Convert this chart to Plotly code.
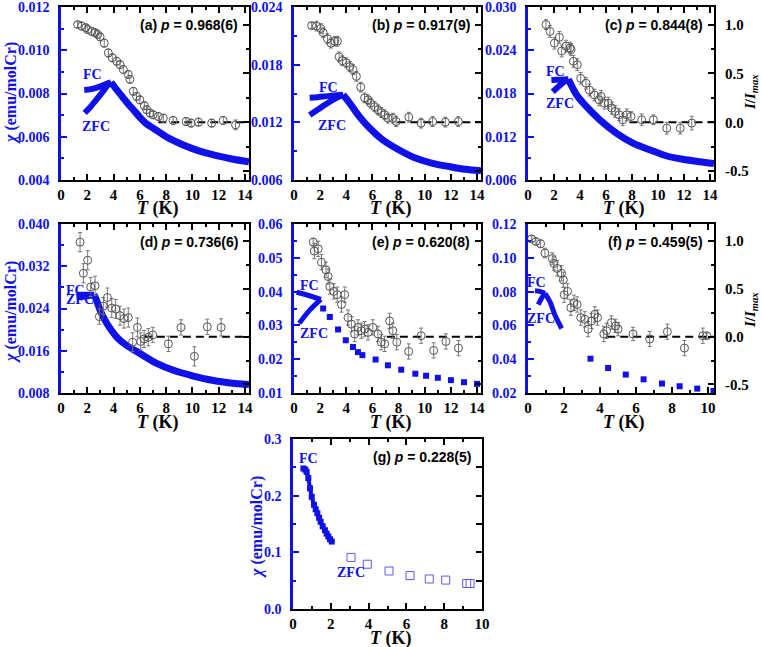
import plotly.graph_objects as go

# ---------------- data ----------------
panel_tags = ["(a)", "(b)", "(c)", "(d)", "(e)", "(f)", "(g)"]
p_values = ["0.968(6)", "0.917(9)", "0.844(8)", "0.736(6)", "0.620(8)", "0.459(5)", "0.228(5)"]

# (a)
a_fc_T = [1.77, 2.2, 2.6, 3.0, 3.3, 3.6, 3.8]
a_fc_chi = [0.00816, 0.00819, 0.00825, 0.00833, 0.0084, 0.00848, 0.00852]
a_zfc_T = [1.8, 2.2, 2.6, 3.0, 3.3, 3.6, 3.8]
a_zfc_chi = [0.00710, 0.00735, 0.00765, 0.00795, 0.00818, 0.00842, 0.00852]
a_hi_T = [3.8, 4.2, 4.6, 5.0, 5.5, 6.0, 6.5, 7.0, 7.5, 8.0, 9.0, 10.0, 11.0, 12.0, 13.0, 14.0, 14.3]
a_hi_chi = [0.00852, 0.0082, 0.0079, 0.0076, 0.00725, 0.0069, 0.0066, 0.0064, 0.0062, 0.0060, 0.0057,
            0.00545, 0.00525, 0.0051, 0.00497, 0.00487, 0.00484]
a_nT = [1.27, 1.57, 1.88, 2.03, 2.34, 2.59, 2.79, 2.97, 3.29, 3.6, 3.9, 4.24, 4.49, 4.74, 5.12, 5.24,
        5.5, 5.75, 6.0, 6.34, 6.51, 6.77, 7.01, 7.4, 7.78, 8.53, 9.51, 9.89, 10.46, 11.46, 12.34, 13.28]
a_nI = [1.0, 0.985, 0.968, 0.95, 0.93, 0.917, 0.90, 0.875, 0.81, 0.71, 0.66, 0.625, 0.59, 0.54, 0.49, 0.44,
        0.317, 0.265, 0.23, 0.17, 0.13, 0.095, 0.077, 0.06, 0.043, 0.019, 0.008, -0.008, 0.002, -0.008, 0.019, -0.026]
a_nErr = [0.03, 0.04, 0.04, 0.04, 0.04, 0.04, 0.04, 0.04, 0.04, 0.04, 0.04, 0.04, 0.04, 0.04, 0.04, 0.04,
          0.04, 0.04, 0.04, 0.04, 0.04, 0.04, 0.04, 0.04, 0.04, 0.04, 0.04, 0.04, 0.04, 0.04, 0.04, 0.05]

# (b)
b_fc_T = [1.2, 1.8, 2.4, 3.0, 3.5, 3.75]
b_fc_chi = [0.01456, 0.01462, 0.0147, 0.01478, 0.01484, 0.01486]
b_zfc_T = [1.2, 1.8, 2.4, 3.0, 3.5, 3.75]
b_zfc_chi = [0.01276, 0.0133, 0.01385, 0.01435, 0.01472, 0.01486]
b_hi_T = [3.75, 4.26, 5.0, 5.8, 6.8, 8.07, 9.34, 10.6, 11.87, 13.1, 14.3]
b_hi_chi = [0.01486, 0.0140, 0.0126, 0.01138, 0.01016, 0.0091, 0.00826, 0.00774, 0.0074, 0.00711, 0.00695]
b_nT = [1.35, 1.72, 2.05, 2.23, 2.56, 2.82, 3.12, 3.32, 3.45, 3.7, 4.0, 4.26, 4.51, 4.77, 5.1, 5.4, 5.66,
        5.86, 6.16, 6.42, 6.67, 6.93, 7.18, 7.56, 7.81, 8.78, 9.72, 10.6, 11.57, 12.56]
b_nI = [0.99, 0.985, 0.96, 0.917, 0.855, 0.81, 0.83, 0.83, 0.67, 0.63, 0.61, 0.57, 0.54, 0.47, 0.36, 0.25,
        0.23, 0.197, 0.16, 0.128, 0.10, 0.077, 0.043, 0.043, 0.008, 0.053, -0.008, 0.008, 0.002, 0.008]
b_nErr = [0.03, 0.05, 0.05, 0.05, 0.05, 0.05, 0.05, 0.05, 0.05, 0.05, 0.05, 0.05, 0.05, 0.05, 0.05, 0.05,
          0.05, 0.05, 0.05, 0.05, 0.05, 0.05, 0.05, 0.05, 0.05, 0.05, 0.05, 0.05, 0.05, 0.05]

# (c)
c_fc_T = [1.8, 2.3, 2.8, 3.1]
c_fc_chi = [0.01987, 0.0199, 0.01995, 0.01997]
c_zfc_T = [1.9, 2.3, 2.7, 3.1]
c_zfc_chi = [0.01825, 0.0189, 0.0195, 0.01997]
c_hi_T = [3.1, 3.74, 4.5, 5.54, 6.82, 8.1, 9.4, 10.67, 11.9, 13.2, 14.3]
c_hi_chi = [0.01997, 0.01779, 0.01617, 0.01432, 0.01248, 0.01109, 0.01016, 0.00933, 0.00887, 0.00854, 0.0083]
c_nT = [1.38, 1.69, 2.03, 2.41, 2.59, 2.92, 3.23, 3.31, 3.49, 3.79, 4.05, 4.46, 4.72, 5.1, 5.46, 5.62,
        5.87, 6.18, 6.44, 6.69, 7.0, 7.28, 7.59, 7.92, 8.74, 9.64, 10.67, 11.7, 12.59]
c_nI = [1.0, 0.93, 0.81, 0.87, 0.73, 0.78, 0.76, 0.745, 0.625, 0.59, 0.45, 0.40, 0.33, 0.28, 0.23, 0.265,
        0.197, 0.197, 0.146, 0.111, 0.077, 0.026, 0.077, 0.06, 0.026, 0.026, -0.06, -0.06, -0.008]
c_nErr = [0.05, 0.06, 0.06, 0.06, 0.06, 0.06, 0.06, 0.06, 0.06, 0.06, 0.06, 0.06, 0.06, 0.06, 0.06, 0.06,
          0.06, 0.06, 0.06, 0.06, 0.06, 0.06, 0.06, 0.05, 0.06, 0.05, 0.06, 0.06, 0.07]

# (d)
d_fc_T = [1.2, 1.7, 2.2, 2.5]
d_fc_chi = [0.0266, 0.0266, 0.0266, 0.0266]
d_zfc_T = [1.2, 1.7, 2.2, 2.5]
d_zfc_chi = [0.0261, 0.0262, 0.0264, 0.0266]
d_hi_T = [2.5, 2.7, 2.97, 3.48, 4.24, 5.0, 6.0, 7.28, 8.55, 9.8, 11.1, 12.6, 14.3]
d_hi_chi = [0.0266, 0.0256, 0.0237, 0.0212, 0.0186, 0.0170, 0.0155, 0.0136, 0.0123, 0.0114, 0.0106, 0.0100, 0.0096]
d_nT = [1.45, 1.7, 2.03, 2.26, 2.59, 2.92, 3.22, 3.53, 3.86, 4.16, 4.49, 4.79, 5.12, 5.45, 5.81, 6.06,
        6.32, 6.64, 6.98, 8.17, 9.13, 10.15, 11.13, 12.18]
d_nI = [0.99, 0.664, 0.80, 0.52, 0.533, 0.21, 0.32, 0.41, 0.30, 0.29, 0.22, 0.19, 0.20, -0.058, 0.097,
        -0.05, -0.024, -0.006, 0.018, -0.075, 0.097, -0.206, 0.103, 0.097]
d_nErr = [0.1, 0.1, 0.1, 0.1, 0.1, 0.08, 0.09, 0.1, 0.1, 0.1, 0.1, 0.1, 0.1, 0.1, 0.1, 0.09,
          0.09, 0.09, 0.08, 0.08, 0.08, 0.1, 0.08, 0.09]

# (e)
e_fc_T = [0.2, 1.0, 2.05]
e_fc_chi = [0.0398, 0.0390, 0.0377]
e_zfc_T = [0.4, 1.2, 2.05]
e_zfc_chi = [0.0306, 0.0345, 0.0377]
e_hi_T = [2.23, 2.74, 3.37, 3.96, 4.51, 4.89, 5.23, 6.24, 7.18, 8.2, 9.28, 10.1, 11.0, 12.0, 13.0, 14.0]
e_hi_chi = [0.0350, 0.0325, 0.0288, 0.0256, 0.0236, 0.0221, 0.0212, 0.0199, 0.0182, 0.0169, 0.0157,
            0.0151, 0.0145, 0.0138, 0.0132, 0.0127]
e_nT = [1.47, 1.55, 1.85, 2.1, 2.44, 2.61, 2.74, 3.04, 3.3, 3.63, 3.88, 4.13, 4.39, 4.64, 4.89, 5.15,
        5.4, 5.66, 6.03, 6.42, 6.67, 6.93, 7.31, 7.56, 7.86, 8.77, 9.72, 10.68, 11.62, 12.58]
e_nI = [0.99, 0.897, 0.92, 0.78, 0.70, 0.63, 0.526, 0.474, 0.44, 0.337, 0.44, 0.2, 0.131, 0.028, 0.097,
        0.062, 0.079, 0.045, 0.097, 0.028, -0.058, -0.075, 0.165, 0.062, -0.058, -0.155, 0.01, -0.144, -0.05, -0.12]
e_nErr = [0.04, 0.08, 0.08, 0.08, 0.08, 0.08, 0.08, 0.08, 0.08, 0.08, 0.08, 0.08, 0.08, 0.08, 0.08, 0.08,
          0.08, 0.08, 0.08, 0.08, 0.08, 0.08, 0.08, 0.08, 0.08, 0.08, 0.08, 0.08, 0.08, 0.08]

# (f)
f_fc_T = [0.39, 0.7, 0.94]
f_fc_chi = [0.0805, 0.0800, 0.0790]
f_zfc_T = [0.57, 0.75, 0.94]
f_zfc_chi = [0.0723, 0.0760, 0.0790]
f_mid_T = [0.94, 1.22, 1.5, 1.87]
f_mid_chi = [0.0790, 0.074, 0.066, 0.0582]
f_hi_T = [3.47, 4.45, 5.43, 6.42, 7.44, 8.42, 9.4, 10.3]
f_hi_chi = [0.0403, 0.0348, 0.0309, 0.0281, 0.0256, 0.0240, 0.0226, 0.0212]
f_nT = [0.2, 0.44, 0.7, 0.94, 1.35, 1.44, 1.62, 1.86, 1.96, 2.01, 2.2, 2.38, 2.55, 2.73, 2.93, 3.16,
        3.34, 3.53, 3.71, 3.86, 4.21, 4.36, 4.63, 4.87, 5.0, 5.83, 6.76, 7.74, 8.69, 9.71, 9.93]
f_nI = [1.025, 0.997, 0.973, 0.876, 0.818, 0.767, 0.715, 0.664, 0.595, 0.44, 0.474, 0.303, 0.355, 0.337,
        0.2, 0.182, 0.079, 0.165, 0.234, 0.2, 0.028, 0.062, 0.148, 0.113, 0.079, 0.028, -0.024, 0.052,
        -0.12, 0.01, 0.01]
f_nErr = [0.03, 0.03, 0.04, 0.05, 0.06, 0.07, 0.08, 0.08, 0.08, 0.08, 0.08, 0.08, 0.08, 0.08, 0.08, 0.08,
          0.08, 0.08, 0.08, 0.08, 0.08, 0.08, 0.07, 0.07, 0.07, 0.07, 0.08, 0.08, 0.08, 0.08, 0.03]

# (g)
g_fc_T = [0.55, 0.65, 0.72, 0.81, 0.9, 0.99, 1.11, 1.2, 1.29, 1.38, 1.46, 1.57, 1.69, 1.78, 1.87, 1.96, 2.05]
g_fc_chi = [0.248, 0.246, 0.242, 0.231, 0.213, 0.198, 0.184, 0.176, 0.169, 0.161, 0.154, 0.146, 0.139,
            0.133, 0.128, 0.123, 0.119]
g_zfc_T = [3.07, 3.93, 5.08, 6.19, 7.21, 8.08, 9.19, 9.37]
g_zfc_chi = [0.091, 0.079, 0.067, 0.059, 0.053, 0.051, 0.045, 0.045]

# dashed I = 0 reference lines (a-f)
dash_T0 = [7.4, 7.9, 7.8, 6.3, 7.1, 4.4]
dash_T1 = [14.3, 14.3, 14.3, 14.3, 14.3, 10.33]

I_tickvals = [-0.5, 0.0, 0.5, 1.0]
I_ticktext = ["-0.5", "0.0", "0.5", "1.0"]
I_minorvals = [-0.25, 0.25, 0.75]

# ---------------- figure ----------------
W, H = 762, 647
BLUE = "#1010e8"
GRAY = "#555555"
SERIF = "Liberation Serif"
SANS = "Liberation Sans"


def fx(p):
    return p / W


def fy(p):
    return 1 - p / H


boxes = [(61, 249, 7, 180), (294, 481, 7, 180), (528, 714, 7, 180),
         (61, 249, 224, 393), (294, 481, 224, 393), (528, 714, 224, 393),
         (293, 482, 439, 609)]
xranges = [[0, 14.3]] * 5 + [[0, 10.33], [0, 10]]
yranges = [[0.004, 0.012], [0.006, 0.024], [0.006, 0.030], [0.008, 0.040],
           [0.01, 0.06], [0.02, 0.12], [0.0, 0.3]]
ydticks = [0.002, 0.006, 0.006, 0.008, 0.01, 0.02, 0.1]
yfmts = [".3f", ".3f", ".3f", ".3f", ".2f", ".2f", ".1f"]
IRANGE = [-0.59, 1.18]

fc_T = [a_fc_T, b_fc_T, c_fc_T, d_fc_T, e_fc_T, f_fc_T]
fc_chi = [a_fc_chi, b_fc_chi, c_fc_chi, d_fc_chi, e_fc_chi, f_fc_chi]
zfc_T = [a_zfc_T, b_zfc_T, c_zfc_T, d_zfc_T, e_zfc_T, f_zfc_T]
zfc_chi = [a_zfc_chi, b_zfc_chi, c_zfc_chi, d_zfc_chi, e_zfc_chi, f_zfc_chi]
hi_T = [a_hi_T, b_hi_T, c_hi_T, d_hi_T, e_hi_T, f_hi_T]
hi_chi = [a_hi_chi, b_hi_chi, c_hi_chi, d_hi_chi, e_hi_chi, f_hi_chi]
n_T = [a_nT, b_nT, c_nT, d_nT, e_nT, f_nT]
n_I = [a_nI, b_nI, c_nI, d_nI, e_nI, f_nI]
n_E = [a_nErr, b_nErr, c_nErr, d_nErr, e_nErr, f_nErr]

fig = go.Figure()
layout = dict(width=W, height=H, margin=dict(l=0, r=0, t=0, b=0, autoexpand=False),
              paper_bgcolor="white", plot_bgcolor="white", showlegend=False)
annotations = []

tickfont_k = dict(family=SERIF, size=15, color="black", weight="bold")
tickfont_b = dict(family=SERIF, size=14, color=BLUE, weight="bold")

for i in range(7):
    n = i + 1
    x0, x1, y0, y1 = boxes[i]
    xk = "xaxis" if n == 1 else f"xaxis{n}"
    yk = "yaxis" if n == 1 else f"yaxis{n}"
    yrk = f"yaxis{n + 7}"
    xn = "x" if n == 1 else f"x{n}"
    yn = "y" if n == 1 else f"y{n}"
    yrn = f"y{n + 7}"

    layout[xk] = dict(domain=[fx(x0), fx(x1)], range=xranges[i], anchor=yn, automargin=False,
                      ticklabeloverflow="allow",
                      tick0=0, dtick=2, ticks="inside", ticklen=6, tickwidth=1.5, tickcolor="black",
                      minor=dict(dtick=1, tick0=0, ticks="inside", ticklen=3, tickwidth=1.5, tickcolor="black"),
                      showline=True, linecolor="black", linewidth=2, mirror="ticks",
                      showgrid=False, zeroline=False, tickfont=tickfont_k, ticklabelstandoff=0)
    layout[yk] = dict(domain=[fy(y1), fy(y0)], range=yranges[i], anchor=xn, side="left", automargin=False,
                      ticklabeloverflow="allow",
                      tick0=0, dtick=ydticks[i], tickformat=yfmts[i],
                      ticks="inside", ticklen=6, tickwidth=1.5, tickcolor=BLUE,
                      minor=dict(dtick=ydticks[i] / 2, tick0=0, ticks="inside", ticklen=3,
                                 tickwidth=1.5, tickcolor=BLUE),
                      showline=True, linecolor=BLUE, linewidth=2.5,
                      showgrid=False, zeroline=False, tickfont=tickfont_b, ticklabelstandoff=6)
    if i < 6:
        layout[yrk] = dict(overlaying=yn, anchor=xn, side="right", range=IRANGE, automargin=False,
                           ticklabeloverflow="allow",
                           tickmode="array", tickvals=I_tickvals, ticktext=I_ticktext,
                           showticklabels=(i in (2, 5)),
                           ticks="inside", ticklen=6, tickwidth=1.5, tickcolor="black",
                           minor=dict(tickmode="array", tickvals=I_minorvals, ticks="inside",
                                      ticklen=3, tickwidth=1.5, tickcolor="black"),
                           showline=True, linecolor="black", linewidth=2,
                           showgrid=False, zeroline=False, tickfont=tickfont_k, ticklabelstandoff=6)
    else:
        layout[yrk] = dict(overlaying=yn, anchor=xn, side="right", range=yranges[i], automargin=False,
                           tick0=0, dtick=0.1, showticklabels=False,
                           ticks="inside", ticklen=6, tickwidth=1.5, tickcolor="black",
                           minor=dict(dtick=0.05, tick0=0, ticks="inside", ticklen=6,
                                      tickwidth=1.5, tickcolor="black"),
                           showline=True, linecolor="black", linewidth=2,
                           showgrid=False, zeroline=False)

    # susceptibility traces
    if i < 6:
        lw = 6 if i < 4 else 5
        fig.add_trace(go.Scatter(x=fc_T[i], y=fc_chi[i], mode="lines", xaxis=xn, yaxis=yn,
                                 line=dict(color=BLUE, width=lw, shape="spline")))
        fig.add_trace(go.Scatter(x=zfc_T[i], y=zfc_chi[i], mode="lines", xaxis=xn, yaxis=yn,
                                 line=dict(color=BLUE, width=lw, shape="spline")))
        if i < 4:
            fig.add_trace(go.Scatter(x=hi_T[i], y=hi_chi[i], mode="lines", xaxis=xn, yaxis=yn,
                                     line=dict(color=BLUE, width=7, shape="spline", smoothing=0.8)))
        else:
            fig.add_trace(go.Scatter(x=hi_T[i], y=hi_chi[i], mode="markers", xaxis=xn, yaxis=yn,
                                     marker=dict(symbol="square", color=BLUE, size=6, line=dict(width=0))))
        if i == 5:
            fig.add_trace(go.Scatter(x=f_mid_T, y=f_mid_chi, mode="lines", xaxis=xn, yaxis=yn,
                                     line=dict(color=BLUE, width=5, shape="spline")))
        # neutron intensity
        fig.add_trace(go.Scatter(x=[dash_T0[i], dash_T1[i]], y=[0, 0], mode="lines", xaxis=xn, yaxis=yrn,
                                 line=dict(color="black", width=2, dash="8px,5px")))
        fig.add_trace(go.Scatter(x=n_T[i], y=n_I[i], mode="markers", xaxis=xn, yaxis=yrn,
                                 error_y=dict(type="data", array=n_E[i], color="#777777",
                                              thickness=1, width=2),
                                 marker=dict(symbol="circle-open", color=GRAY, size=8,
                                             line=dict(width=1, color=GRAY))))
    else:
        fig.add_trace(go.Scatter(x=g_fc_T, y=g_fc_chi, mode="lines+markers", xaxis=xn, yaxis=yn,
                                 line=dict(color=BLUE, width=4, shape="spline"),
                                 marker=dict(symbol="square", color=BLUE, size=6, line=dict(width=0))))
        fig.add_trace(go.Scatter(x=g_zfc_T, y=g_zfc_chi, mode="markers", xaxis=xn, yaxis=yrn,
                                 marker=dict(symbol="square-open", color="#5a5ae6", size=8,
                                             line=dict(width=1, color="#5a5ae6"))))

    # panel title
    annotations.append(dict(x=fx(x1 - 9), y=fy(y0 + 18), xref="paper", yref="paper",
                            xanchor="right", yanchor="middle", showarrow=False,
                            text=f"{panel_tags[i]} <i>p</i> = {p_values[i]}",
                            font=dict(family=SANS, size=14, color="black", weight="bold")))
    # x title
    annotations.append(dict(x=fx((x0 + x1) / 2 + 3), y=fy(y1 + 29), xref="paper", yref="paper",
                            xanchor="center", yanchor="middle", showarrow=False,
                            text="<i>T</i> (K)",
                            font=dict(family=SERIF, size=18, color="black", weight="bold")))

# y titles (chi)
for (xc, yc) in [(11, 93), (11, 312), (257, 527)]:
    annotations.append(dict(x=fx(xc), y=fy(yc), xref="paper", yref="paper", textangle=-90,
                            xanchor="center", yanchor="middle", showarrow=False,
                            text="<i>χ</i> (emu/molCr)",
                            font=dict(family=SERIF, size=16, color=BLUE, weight="bold")))
# right titles
for (xc, yc) in [(751, 92), (751, 310)]:
    annotations.append(dict(x=fx(xc), y=fy(yc), xref="paper", yref="paper", textangle=-90,
                            xanchor="center", yanchor="middle", showarrow=False,
                            text="<i>I</i>/<i>I</i><sub><i>max</i></sub>",
                            font=dict(family=SERIF, size=15, color="black", weight="bold")))

# FC / ZFC labels
fc_labels = [("FC", 92, 75), ("ZFC", 96, 127), ("FC", 328, 87), ("ZFC", 332, 126),
             ("FC", 555, 72), ("ZFC", 560, 103), ("FC", 75, 290), ("ZFC", 80, 300),
             ("FC", 309, 285), ("ZFC", 314, 333), ("FC", 536, 283), ("ZFC", 541, 318),
             ("FC", 308, 458), ("ZFC", 351, 572)]
for (t, xc, yc) in fc_labels:
    annotations.append(dict(x=fx(xc), y=fy(yc), xref="paper", yref="paper",
                            xanchor="center", yanchor="middle", showarrow=False, text=t,
                            font=dict(family=SERIF, size=14, color=BLUE, weight="bold")))

layout["annotations"] = annotations
fig.update_layout(**layout)
fig.write_html("out.html",
               config={"displayModeBar": False},
               post_script="document.body.style.margin='0';document.body.style.padding='0';"
                           "document.body.style.overflow='hidden';")
